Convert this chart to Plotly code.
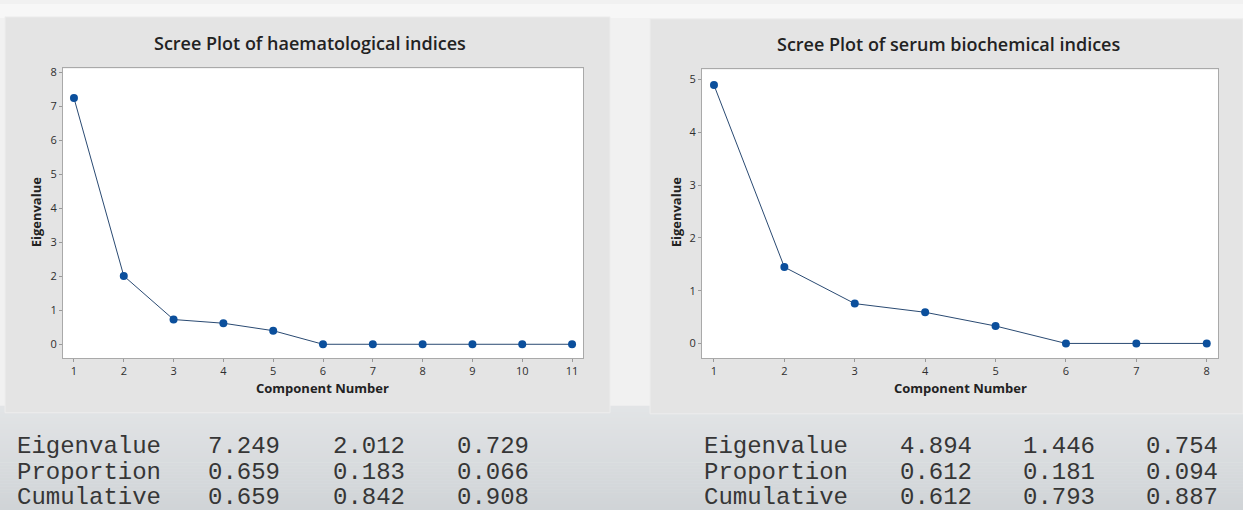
import plotly.graph_objects as go

W, H = 1243, 510

# ---- data ----
components_haem = [1, 2, 3, 4, 5, 6, 7, 8, 9, 10, 11]
eigen_haem = [7.249, 2.012, 0.729, 0.62, 0.40, 0.0, 0.0, 0.0, 0.0, 0.0, 0.0]
components_serum = [1, 2, 3, 4, 5, 6, 7, 8]
eigen_serum = [4.894, 1.446, 0.754, 0.59, 0.33, 0.0, 0.0, 0.0]

title_haem = "Scree Plot of haematological indices"
title_serum = "Scree Plot of serum biochemical indices"

row_labels = ["Eigenvalue", "Proportion", "Cumulative"]
table_haem = [["7.249", "2.012", "0.729"],
              ["0.659", "0.183", "0.066"],
              ["0.659", "0.842", "0.908"]]
table_serum = [["4.894", "1.446", "0.754"],
               ["0.612", "0.181", "0.094"],
               ["0.612", "0.793", "0.887"]]


def px(x):
    return x / W


def py(y):
    return 1 - y / H


fig = go.Figure()

LINE = "#2a4a72"
MARK = "#0b4f9c"

fig.add_trace(go.Scatter(x=components_haem, y=eigen_haem, mode="lines+markers",
                         line=dict(color=LINE, width=1),
                         marker=dict(color=MARK, size=8),
                         xaxis="x", yaxis="y", showlegend=False))
fig.add_trace(go.Scatter(x=components_serum, y=eigen_serum, mode="lines+markers",
                         line=dict(color=LINE, width=1),
                         marker=dict(color=MARK, size=8),
                         xaxis="x2", yaxis="y2", showlegend=False))

tickfont = dict(family="Open Sans, Noto Sans, sans-serif", size=11, color="#2e2e2e")
axis_common = dict(showgrid=False, zeroline=False, showline=True, mirror=True,
                   linecolor="#a9a9a9", linewidth=1, ticks="outside", ticklen=3,
                   tickcolor="#9a9a9a", tickfont=tickfont, fixedrange=True)

L_PLOT = (63, 583, 65, 357)     # x0, x1, y0(top), y1(bottom) in px
R_PLOT = (702, 1218, 66, 357)

fig.update_layout(
    width=W, height=H,
    margin=dict(l=0, r=0, t=0, b=0),
    paper_bgcolor="#f1f1f1",
    plot_bgcolor="white",
    xaxis=dict(domain=[px(L_PLOT[0]), px(L_PLOT[1])], range=[0.78, 11.22],
               tickmode="array", tickvals=components_haem, anchor="y", **axis_common),
    yaxis=dict(domain=[py(L_PLOT[3]), py(L_PLOT[2])], range=[-0.41, 8.12],
               tickmode="array", tickvals=list(range(0, 9)), anchor="x", **axis_common),
    xaxis2=dict(domain=[px(R_PLOT[0]), px(R_PLOT[1])], range=[0.83, 8.16],
                tickmode="array", tickvals=components_serum, anchor="y2", **axis_common),
    yaxis2=dict(domain=[py(R_PLOT[3]), py(R_PLOT[2])], range=[-0.28, 5.19],
                tickmode="array", tickvals=list(range(0, 6)), anchor="x2", **axis_common),
)

shapes = []
# smooth bottom gradient band (background styling)
n_steps = 35
top_c, bot_c = (226, 228, 230), (208, 212, 215)
y_start, y_end = 405, 510
for k in range(n_steps):
    y0 = y_start + (y_end - y_start) * k / n_steps
    y1 = y_start + (y_end - y_start) * (k + 1) / n_steps
    t = k / (n_steps - 1)
    c = tuple(round(a + (b - a) * t) for a, b in zip(top_c, bot_c))
    shapes.append(dict(type="rect", xref="paper", yref="paper", layer="below",
                       x0=0, x1=1, y0=py(y1 + 0.5), y1=py(y0),
                       fillcolor="rgb(%d,%d,%d)" % c, line=dict(width=0)))
# top strip lighter
shapes.append(dict(type="rect", xref="paper", yref="paper", layer="below",
                   x0=0, x1=1, y0=py(14), y1=1, fillcolor="#f7f7f7", line=dict(width=0)))
# panels
shapes.append(dict(type="rect", xref="paper", yref="paper", layer="below",
                   x0=px(5), x1=px(610), y0=py(412), y1=py(13),
                   fillcolor="#e4e4e4", line=dict(color="#ededed", width=1)))
shapes.append(dict(type="rect", xref="paper", yref="paper", layer="below",
                   x0=px(650), x1=px(1243), y0=py(413), y1=py(15),
                   fillcolor="#e4e4e4", line=dict(color="#ededed", width=1)))
# white plot areas
for (x0, x1, y0, y1) in (L_PLOT, R_PLOT):
    shapes.append(dict(type="rect", xref="paper", yref="paper", layer="below",
                       x0=px(x0), x1=px(x1), y0=py(y1), y1=py(y0),
                       fillcolor="white", line=dict(width=0)))
fig.update_layout(shapes=shapes)

ann = []
titlefont = dict(family="Open Sans, Noto Sans, sans-serif", size=18, color="#222222", weight=600)
axtitlefont = dict(family="Open Sans, Noto Sans, sans-serif", size=13, color="#222222", weight="bold")

ann.append(dict(text=title_haem, x=px(310), y=py(39), xref="paper", yref="paper",
                showarrow=False, xanchor="center", yanchor="middle", font=titlefont))
ann.append(dict(text=title_serum, x=px(948), y=py(40), xref="paper", yref="paper",
                showarrow=False, xanchor="center", yanchor="middle", font=titlefont))
ann.append(dict(text="Component Number", x=px(322), y=py(387), xref="paper", yref="paper",
                showarrow=False, xanchor="center", yanchor="middle", font=axtitlefont))
ann.append(dict(text="Component Number", x=px(960), y=py(387), xref="paper", yref="paper",
                showarrow=False, xanchor="center", yanchor="middle", font=axtitlefont))
ann.append(dict(text="Eigenvalue", x=px(36), y=py(210), xref="paper", yref="paper", textangle=-90,
                showarrow=False, xanchor="center", yanchor="middle", font=axtitlefont))
ann.append(dict(text="Eigenvalue", x=px(676), y=py(210), xref="paper", yref="paper", textangle=-90,
                showarrow=False, xanchor="center", yanchor="middle", font=axtitlefont))

monofont = dict(family="Liberation Mono, Courier New, monospace", size=24, color="#363636")
row_y = [446, 472, 497]
left_label_x = 15
left_cols = [206, 331, 455]
right_label_x = 702
right_cols = [898, 1021, 1144]
for i, lab in enumerate(row_labels):
    ann.append(dict(text=lab, x=px(left_label_x), y=py(row_y[i]), xref="paper", yref="paper",
                    showarrow=False, xanchor="left", yanchor="middle", font=monofont))
    ann.append(dict(text=lab, x=px(right_label_x), y=py(row_y[i]), xref="paper", yref="paper",
                    showarrow=False, xanchor="left", yanchor="middle", font=monofont))
    for j in range(3):
        ann.append(dict(text=table_haem[i][j], x=px(left_cols[j]), y=py(row_y[i]),
                        xref="paper", yref="paper", showarrow=False,
                        xanchor="left", yanchor="middle", font=monofont))
        ann.append(dict(text=table_serum[i][j], x=px(right_cols[j]), y=py(row_y[i]),
                        xref="paper", yref="paper", showarrow=False,
                        xanchor="left", yanchor="middle", font=monofont))
fig.update_layout(annotations=ann)

fig.write_html("out.html",
               config={"displayModeBar": False},
               post_script="document.body.style.margin='0';"
                           "document.documentElement.style.overflow='hidden';")
